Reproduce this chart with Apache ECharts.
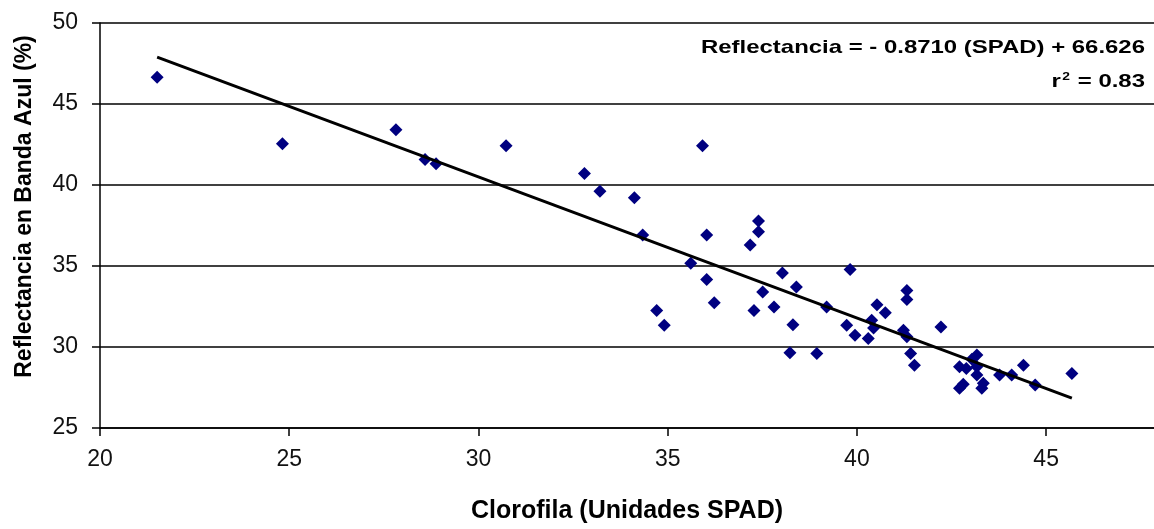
<!DOCTYPE html>
<html>
<head>
<meta charset="utf-8">
<script src="https://cdn.jsdelivr.net/npm/echarts@6/dist/echarts.min.js"></script>
<style>
html,body{margin:0;padding:0;background:#fff;}
#chart{width:1154px;height:529px;}
</style>
</head>
<body>
<div id="chart"></div>
<script>
// Clorofila (SPAD) values
const spad = [
  21.51, 24.82, 27.82, 28.59, 28.88, 30.73, 32.80, 33.21, 34.12, 34.34,
  35.92, 36.03, 37.40, 37.40, 37.18, 35.61, 36.03, 38.03, 38.40, 37.51,
  39.82, 36.23, 34.71, 34.91, 37.28, 37.81, 38.31, 38.23, 38.94, 39.20,
  39.73, 39.95, 40.53, 40.75, 40.39, 40.44, 40.30, 41.32, 41.32, 41.23,
  41.32, 42.22, 41.42, 41.52, 43.17, 43.04, 42.71, 42.89, 43.17, 43.17,
  43.34, 43.30, 42.71, 42.81, 43.77, 44.09, 44.40, 44.71, 45.68
];
// Reflectancia en banda azul (%)
const reflect = [
  46.65, 42.55, 43.41, 41.57, 41.31, 42.43, 40.71, 39.61, 39.22, 36.91,
  42.43, 36.91, 37.78, 37.11, 36.29, 35.17, 34.16, 34.57, 33.70, 33.39,
  34.78, 32.73, 32.26, 31.34, 32.26, 32.47, 31.38, 29.64, 29.60, 32.47,
  31.34, 30.72, 32.61, 32.12, 31.65, 31.18, 30.52, 33.49, 32.93, 31.03,
  30.63, 31.24, 29.60, 28.88, 29.50, 29.25, 28.78, 28.68, 28.78, 28.27,
  27.76, 27.45, 27.45, 27.70, 28.27, 28.27, 28.88, 27.66, 28.37
];
// Trend line (from the equation shown on the chart)
const slope = -0.8710;
const intercept = 66.626;
// Axis ranges
const xRange = [20, 47.85];
const yRange = [25, 50];
const tickStep = [5, 5];
// Texts
const xTitle = 'Clorofila (Unidades SPAD)';
const yTitle = 'Reflectancia en Banda Azul (%)';
const eqLine1 = 'Reflectancia = - 0.8710 (SPAD) + 66.626';
const eqLine2 = ['r', '2', ' = 0.83'];

const points = spad.map((x, i) => [x, reflect[i]]);
const xMin = Math.min(...spad), xMax = Math.max(...spad);
const trend = [[xMin, slope * xMin + intercept], [xMax, slope * xMax + intercept]];

const FONT = '"Liberation Sans", Arial, sans-serif';
const chart = echarts.init(document.getElementById('chart'), null, {renderer: 'canvas'});
chart.setOption({
  backgroundColor: '#ffffff',
  animation: false,
  grid: {left: 100, right: 0, top: 23, bottom: 99, containLabel: false},
  xAxis: {
    type: 'value',
    min: xRange[0], max: xRange[1], interval: tickStep[0],
    axisLine: {show: true, onZero: false, lineStyle: {color: '#000', width: 1.5}},
    axisTick: {show: true, length: 8, lineStyle: {color: '#000', width: 1.5}},
    axisLabel: {
      color: '#111', fontSize: 23, fontFamily: FONT, margin: 20,
      showMaxLabel: false,
      formatter: v => (Math.abs(v % tickStep[0]) < 1e-9 ? String(v) : '')
    },
    splitLine: {show: false},
    name: xTitle, nameLocation: 'middle', nameGap: 71,
    nameTextStyle: {fontSize: 25, fontWeight: 'bold', color: '#000', fontFamily: FONT}
  },
  yAxis: {
    type: 'value',
    min: yRange[0], max: yRange[1], interval: tickStep[1],
    axisLine: {show: true, onZero: false, lineStyle: {color: '#000', width: 1.5}},
    axisTick: {show: true, length: 8, lineStyle: {color: '#000', width: 1.5}},
    axisLabel: {color: '#111', fontSize: 23, fontFamily: FONT, margin: 22},
    splitLine: {show: true, lineStyle: {color: '#000', width: 1.5}},
    name: yTitle, nameLocation: 'middle', nameGap: 64,
    nameTextStyle: {fontSize: 23, fontWeight: 'bold', color: '#000', fontFamily: FONT, padding: [0, 0, 0, 38]}
  },
  series: [
    {
      type: 'scatter',
      data: points,
      symbol: 'diamond',
      symbolSize: 13,
      itemStyle: {color: '#000080', opacity: 1},
      z: 2
    },
    {
      type: 'line',
      data: trend,
      symbol: 'none',
      lineStyle: {color: '#000', width: 3},
      z: 3
    }
  ],
  graphic: [
    {
      type: 'text', x: 1145, y: 48, scaleX: 1.26, z: 10,
      style: {text: eqLine1, align: 'right', verticalAlign: 'middle',
        font: 'bold 19px ' + FONT, fill: '#000'}
    },
    {
      type: 'text', x: 1145, y: 82, scaleX: 1.26, z: 10,
      style: {
        text: '{a|' + eqLine2[0] + '}{s|' + eqLine2[1] + '}{a|' + eqLine2[2] + '}',
        align: 'right', verticalAlign: 'middle',
        rich: {
          a: {fontSize: 19, fontWeight: 'bold', fontFamily: FONT, fill: '#000', color: '#000'},
          s: {fontSize: 11, fontWeight: 'bold', fontFamily: FONT, fill: '#000', color: '#000', verticalAlign: 'top', padding: [0, 1, 10, 1]}
        }
      }
    }
  ]
});
</script>
</body>
</html>
